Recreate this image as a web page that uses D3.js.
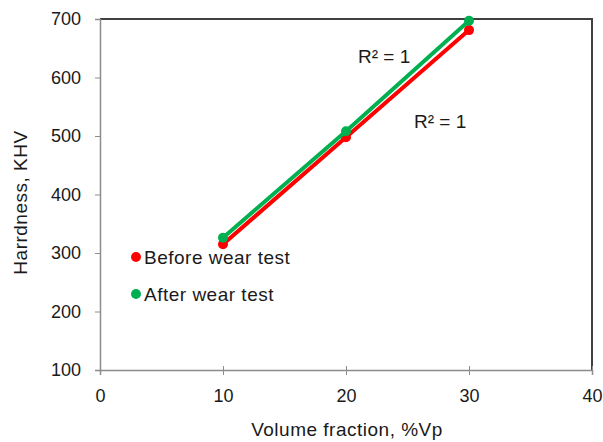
<!DOCTYPE html>
<html>
<head>
<meta charset="utf-8">
<script src="https://cdn.jsdelivr.net/npm/d3@7"></script>
<style>
  body { margin: 0; background: #fff; }
  text { font-family: "Liberation Sans", Arial, sans-serif; }
</style>
</head>
<body>
<script>
// data
const volumeFraction = [10, 20, 30];
const beforeWear = [315, 498, 681];
const afterWear = [326, 508, 697];
const xTicks = [0, 10, 20, 30, 40];
const yTicks = [100, 200, 300, 400, 500, 600, 700];

const width = 603;
const height = 442;
const margin = { left: 100, right: 11, top: 19, bottom: 72 };

const svg = d3.select("body").append("svg")
  .attr("width", width)
  .attr("height", height);

const x = d3.scaleLinear().domain([0, 40]).range([margin.left, width - margin.right]);
const y = d3.scaleLinear().domain([100, 700]).range([height - margin.bottom, margin.top]);

// top and right border
svg.append("path")
  .attr("d", `M${x(0)},${y(700)}H${x(40)}V${y(100)}`)
  .attr("fill", "none")
  .attr("stroke", "#404040")
  .attr("stroke-width", 2);

// y axis
const yAxis = svg.append("g")
  .attr("transform", `translate(${x(0)},0)`)
  .call(d3.axisLeft(y).tickValues(yTicks).tickSize(5).tickPadding(14));
yAxis.select(".domain").attr("stroke", "#8c8c8c").attr("stroke-width", 1.5);
yAxis.selectAll(".tick line").attr("stroke", "#8c8c8c");
yAxis.selectAll("text").attr("fill", "#1a1a1a").style("font-size", "18px");

// x axis, ticks cross the line
const xAxis = svg.append("g")
  .attr("transform", `translate(0,${y(100)})`)
  .call(d3.axisBottom(x).tickValues(xTicks).tickSize(5).tickPadding(14));
xAxis.select(".domain").attr("stroke", "#8c8c8c").attr("stroke-width", 1.5);
xAxis.selectAll(".tick line").attr("y1", -4).attr("stroke", "#8c8c8c");
xAxis.selectAll("text").attr("fill", "#1a1a1a").style("font-size", "18px");

// axis titles
svg.append("text")
  .attr("x", 347)
  .attr("y", 436)
  .attr("text-anchor", "middle")
  .attr("fill", "#1a1a1a")
  .style("font-size", "19px")
  .style("letter-spacing", "0.5px")
  .text("Volume fraction, %Vp");

svg.append("text")
  .attr("transform", `translate(27,${(y(100) + y(700)) / 2 + 8}) rotate(-90)`)
  .attr("text-anchor", "middle")
  .attr("fill", "#1a1a1a")
  .style("font-size", "19px")
  .style("letter-spacing", "0.5px")
  .text("Harrdness, KHV");

// series
const series = [
  { name: "Before wear test", values: beforeWear, color: "#ff0000" },
  { name: "After wear test", values: afterWear, color: "#00b050" }
];

const line = d3.line().x((d) => x(d[0])).y((d) => y(d[1]));

series.forEach((s) => {
  const pts = volumeFraction.map((v, i) => [v, s.values[i]]);
  svg.append("path")
    .attr("d", line(pts))
    .attr("fill", "none")
    .attr("stroke", s.color)
    .attr("stroke-width", 4);
  svg.selectAll(null)
    .data(pts)
    .join("circle")
    .attr("cx", (d) => x(d[0]))
    .attr("cy", (d) => y(d[1]))
    .attr("r", 5)
    .attr("fill", s.color);
});

// R² labels
svg.append("text")
  .attr("x", 358).attr("y", 63)
  .attr("fill", "#1a1a1a")
  .style("font-size", "19px")
  .text("R² = 1");
svg.append("text")
  .attr("x", 414).attr("y", 128)
  .attr("fill", "#1a1a1a")
  .style("font-size", "19px")
  .text("R² = 1");

// legend
const legend = svg.append("g");
series.forEach((s, i) => {
  const ly = 257 + i * 37;
  legend.append("circle")
    .attr("cx", 136).attr("cy", ly)
    .attr("r", 5)
    .attr("fill", s.color);
  legend.append("text")
    .attr("x", 144).attr("y", ly + 7)
    .attr("fill", "#1a1a1a")
    .style("font-size", "19px")
    .style("letter-spacing", "0.5px")
    .text(s.name);
});
</script>
</body>
</html>
